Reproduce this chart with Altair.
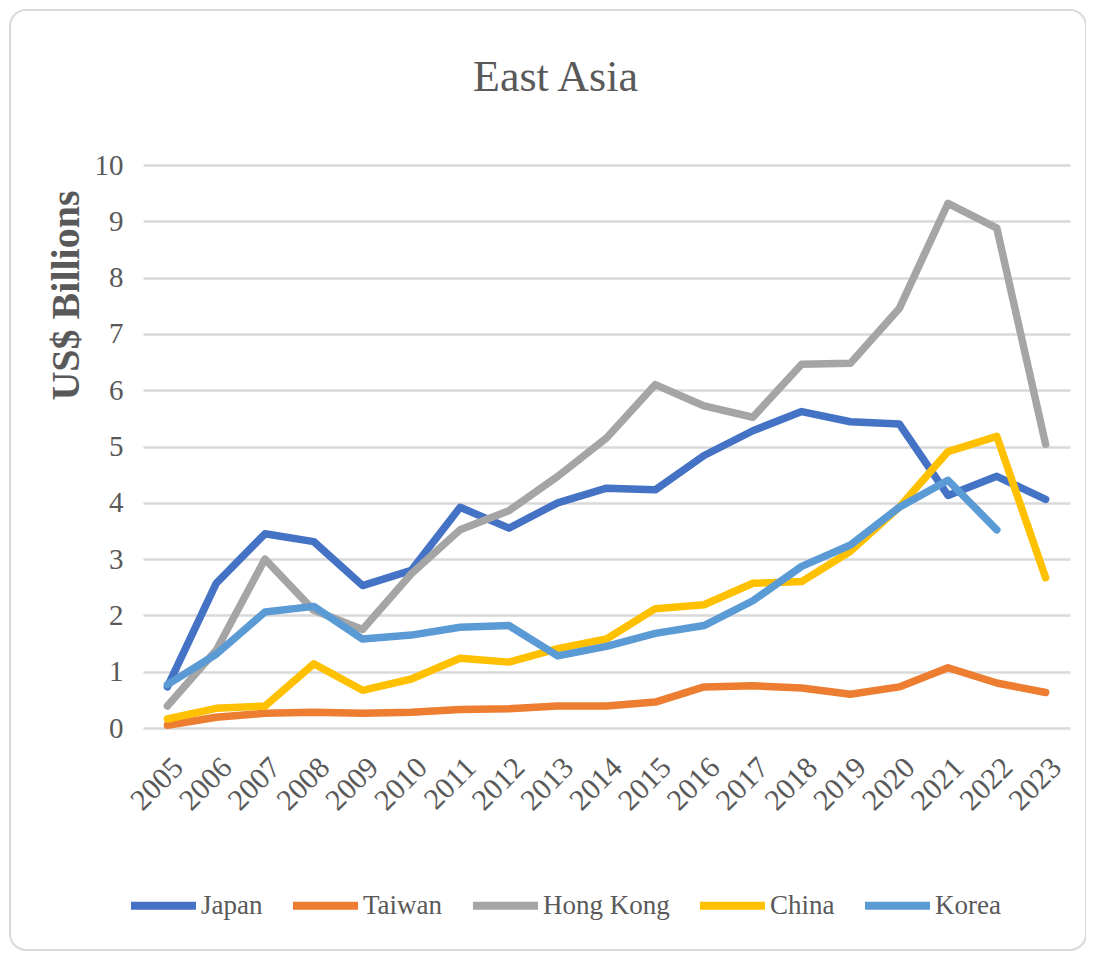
import altair as alt
import pandas as pd

years = [str(y) for y in range(2005, 2024)]
japan = [0.73, 2.57, 3.45, 3.31, 2.53, 2.80, 3.92, 3.55, 4.00, 4.26, 4.23, 4.84, 5.28, 5.62, 5.44, 5.40, 4.13, 4.47, 4.06]
taiwan = [0.05, 0.19, 0.26, 0.28, 0.26, 0.28, 0.33, 0.34, 0.39, 0.39, 0.46, 0.73, 0.75, 0.71, 0.60, 0.73, 1.07, 0.80, 0.63]
hong_kong = [0.39, 1.38, 3.00, 2.09, 1.75, 2.74, 3.52, 3.86, 4.47, 5.15, 6.10, 5.72, 5.52, 6.46, 6.48, 7.45, 9.32, 8.88, 5.04]
china = [0.16, 0.35, 0.39, 1.14, 0.67, 0.87, 1.24, 1.17, 1.41, 1.58, 2.12, 2.19, 2.57, 2.60, 3.14, 3.92, 4.91, 5.18, 2.67]
korea = [0.77, 1.31, 2.06, 2.16, 1.58, 1.65, 1.79, 1.82, 1.28, 1.45, 1.68, 1.82, 2.26, 2.87, 3.25, 3.92, 4.40, 3.52, None]

countries = ["Japan", "Taiwan", "Hong Kong", "China", "Korea"]
colors = ["#4472C4", "#ED7D31", "#A5A5A5", "#FFC000", "#5B9BD5"]
series = [japan, taiwan, hong_kong, china, korea]

rows = []
for c, vals in zip(countries, series):
    for y, v in zip(years, vals):
        if v is not None:
            rows.append({"Year": y, "Country": c, "Value": v})
df = pd.DataFrame(rows)

FONT = "Liberation Serif"
TEXT = "#595959"

x_enc = alt.X("Year:O", sort=years, scale=alt.Scale(type="point", padding=0.5),
              axis=alt.Axis(title=None, labelAngle=315, labelFontSize=30, labelFont=FONT,
                            labelColor=TEXT, domain=False, ticks=False, labelPadding=24))
y_enc = alt.Y("Value:Q", scale=alt.Scale(domain=[0, 10], nice=False),
              axis=alt.Axis(values=list(range(11)), grid=True, gridColor="#d9d9d9", gridWidth=2.5,
                            domain=False, ticks=False, labelFontSize=29, labelFont=FONT,
                            labelColor=TEXT, labelPadding=20,
                            title="US$ Billions", titleFont=FONT, titleFontSize=40,
                            titleFontWeight="bold", titleColor=TEXT, titleAngle=270,
                            titleX=-77, titleY=130, titleAlign="center", titleBaseline="middle"))
color_enc = alt.Color("Country:N", scale=alt.Scale(domain=countries, range=colors),
                      legend=alt.Legend(orient="none", legendX=-16, legendY=704, direction="horizontal",
                                        title=None, symbolType="stroke", symbolSize=4225,
                                        symbolStrokeWidth=8, labelFontSize=27, labelFont=FONT,
                                        labelColor=TEXT, columnPadding=14, labelOffset=1,
                                        padding=0, labelLimit=0))

border = alt.Chart(pd.DataFrame({"a": [0]})).mark_rect(
    fill="transparent", stroke="#d9d9d9", strokeWidth=2, cornerRadius=16
).encode(x=alt.value(-133), x2=alt.value(943), y=alt.value(-155), y2=alt.value(785))

layers = [border]
for c in countries:
    layers.append(
        alt.Chart(df).transform_filter(alt.datum.Country == c)
        .mark_line(strokeWidth=7.5, strokeCap="round", strokeJoin="round")
        .encode(x=x_enc, y=y_enc, color=color_enc)
    )

chart = alt.layer(*layers).properties(
    width=927, height=563,
    title=alt.TitleParams("East Asia", font=FONT, fontSize=44, fontWeight="normal",
                          color=TEXT, anchor="middle", dx=-51, dy=91, offset=0),
    autosize=alt.AutoSizeParams(type="none"),
    padding={"left": 135, "top": 157, "right": 16, "bottom": 225},
    background="white",
).configure_view(stroke=None)

chart.save("out.html", embed_options={"renderer": "svg", "actions": False})
